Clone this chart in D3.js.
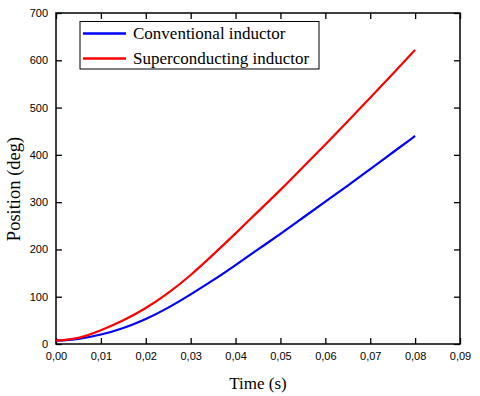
<!DOCTYPE html>
<html><head><meta charset="utf-8">
<script src="https://cdn.jsdelivr.net/npm/d3@7"></script>
<style>body{margin:0;background:#fff}svg{display:block}</style>
</head><body>
<script>
const times = [0,0.005,0.01,0.015,0.02,0.025,0.03,0.035,0.04,0.045,0.05,0.055,0.06,0.065,0.07,0.075,0.08];
const conventional = [7,11,20,34,53,77,105,135,167,200,233,267,301,335,370,405,440];
const superconducting = [7,13,29,50,76,108,146,189,234,280,326,374,422,471,521,571,622];
const xTicks = [0,0.01,0.02,0.03,0.04,0.05,0.06,0.07,0.08,0.09];
const yTicks = [0,100,200,300,400,500,600,700];
const seriesNames = ["Conventional inductor","Superconducting inductor"];
const seriesColors = ["#0000ff","#ff0000"];

const W=480,H=396;
const L=56,R=460,T=13,B=344;
const svg=d3.select("body").append("svg").attr("width",W).attr("height",H);
const x=d3.scaleLinear().domain([0,0.09]).range([L,R]);
const y=d3.scaleLinear().domain([0,700]).range([B,T]);
const fmt=d=>d3.format(".2f")(d).replace(".",",");
const tickFont="'Liberation Sans',Arial,sans-serif";
const serif="'Liberation Serif','Times New Roman',serif";

// axes
const gx=svg.append("g").attr("transform",`translate(0,${B})`)
  .call(d3.axisBottom(x).tickValues(xTicks).tickFormat(fmt).tickSizeInner(-6).tickSizeOuter(0).tickPadding(8));
const gxt=svg.append("g").attr("transform",`translate(0,${T})`)
  .call(d3.axisTop(x).tickValues(xTicks).tickFormat("").tickSizeInner(-6).tickSizeOuter(0));
const gy=svg.append("g").attr("transform",`translate(${L},0)`)
  .call(d3.axisLeft(y).tickValues(yTicks).tickSizeInner(-6).tickSizeOuter(0).tickPadding(8));
const gyr=svg.append("g").attr("transform",`translate(${R},0)`)
  .call(d3.axisRight(y).tickValues(yTicks).tickFormat("").tickSizeInner(-6).tickSizeOuter(0));
[gx,gxt,gy,gyr].forEach(g=>{
  g.select(".domain").remove();
  g.selectAll(".tick line").attr("stroke","#000").attr("stroke-width",1.3);
  g.selectAll("text").attr("font-family",tickFont).attr("font-size",11).attr("fill","#000");
});
svg.append("rect").attr("x",L).attr("y",T).attr("width",R-L).attr("height",B-T)
  .attr("fill","none").attr("stroke","#000").attr("stroke-width",1.5);

// lines
const line=d3.line().x((d,i)=>x(times[i])).y(d=>y(d)).curve(d3.curveNatural);
[conventional,superconducting].forEach((s,k)=>{
  svg.append("path").datum(s).attr("d",line).attr("fill","none")
    .attr("stroke",seriesColors[k]).attr("stroke-width",2.2);
});

// titles
svg.append("text").attr("x",(L+R)/2).attr("y",389).attr("text-anchor","middle")
  .attr("font-family",serif).attr("font-size",17).text("Time (s)");
svg.append("text").attr("transform",`translate(20,189) rotate(-90)`).attr("text-anchor","middle")
  .attr("font-family",serif).attr("font-size",18.5).text("Position (deg)");

// legend
const lg=svg.append("g");
lg.append("rect").attr("x",80).attr("y",21.5).attr("width",239).attr("height",47.5)
  .attr("fill","#fff").attr("stroke","#000").attr("stroke-width",1);
seriesNames.forEach((n,k)=>{
  const yy=33.5+k*25;
  lg.append("line").attr("x1",83).attr("x2",126).attr("y1",yy).attr("y2",yy)
    .attr("stroke",seriesColors[k]).attr("stroke-width",2.5);
  lg.append("text").attr("x",133).attr("y",yy+5.5).attr("font-family",serif).attr("font-size",17).text(n);
});
</script>
</body></html>
